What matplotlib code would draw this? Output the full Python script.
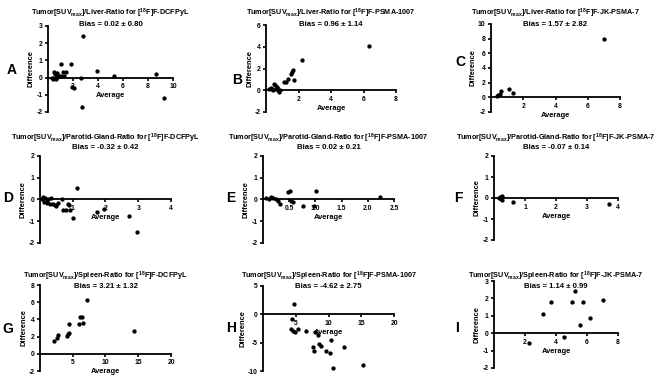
import numpy as np
import matplotlib
matplotlib.use("Agg")
import matplotlib.pyplot as plt

plt.rcParams['font.family'] = ['Liberation Sans', 'DejaVu Sans']
plt.rcParams['font.weight'] = 'bold'
plt.rcParams['mathtext.fontset'] = 'custom'
plt.rcParams['mathtext.rm'] = 'Liberation Sans:bold'
plt.rcParams['mathtext.bf'] = 'Liberation Sans:bold'
plt.rcParams['mathtext.it'] = 'Liberation Sans:bold'
plt.rcParams['axes.unicode_minus'] = False

W, H = 669, 383

# ---- data (average, difference) ----
a_x = [0.3, 0.4, 0.45, 0.5, 0.55, 0.6, 0.65, 0.7, 0.75, 0.8, 0.9, 1.0, 1.07, 1.2, 1.25,
       1.4, 1.8, 1.95, 2.05, 2.6, 2.8, 2.7, 3.9, 5.3, 8.6, 9.3]
a_y = [-0.05, -0.1, 0.3, -0.05, 0.2, 0.0, -0.1, 0.25, 0.05, 0.1, 0.1, 0.1, 0.8, 0.35, 0.1,
       0.3, 0.8, -0.55, -0.6, 0.0, 2.4, -1.7, 0.4, 0.1, 0.2, -1.2]
b_x = [0.2, 0.3, 0.35, 0.45, 0.5, 0.55, 0.6, 0.65, 0.7, 0.75, 0.8, 0.85, 1.1, 1.2, 1.35,
       1.55, 1.6, 1.65, 1.7, 2.2, 6.35]
b_y = [0.1, 0.2, 0.15, 0.0, 0.6, 0.5, 0.1, 0.3, 0.2, 0.05, -0.15, 0.0, 0.8, 0.8, 1.0,
       1.5, 1.7, 1.9, 0.9, 2.8, 4.1]
c_x = [0.4, 0.45, 0.55, 0.65, 1.1, 1.35, 7.0]
c_y = [0.2, 0.35, 0.5, 0.8, 1.1, 0.6, 7.9]
d_x = [0.05, 0.1, 0.12, 0.15, 0.2, 0.22, 0.25, 0.3, 0.35, 0.4, 0.45, 0.5, 0.55, 0.68, 0.7,
       0.8, 0.86, 0.9, 0.92, 1.0, 1.13, 1.73, 1.96, 2.71, 2.97]
d_y = [0.0, 0.1, -0.1, 0.05, -0.05, -0.15, 0.0, -0.2, 0.05, -0.2, -0.25, -0.3, -0.15, 0.0, -0.47,
       -0.47, -0.19, -0.25, -0.47, -0.86, 0.52, -0.58, -0.42, -0.77, -1.48]
e_x = [0.05, 0.12, 0.16, 0.2, 0.24, 0.28, 0.33, 0.48, 0.52, 0.54, 0.57, 0.77, 0.97, 1.02, 2.24]
e_y = [0.05, 0.02, 0.12, 0.05, 0.0, -0.08, -0.19, 0.33, 0.4, -0.08, -0.1, -0.3, -0.3, 0.4, 0.1]
f_x = [0.15, 0.2, 0.22, 0.25, 0.27, 0.61, 3.72]
f_y = [-0.02, 0.05, -0.05, 0.08, -0.08, -0.19, -0.3]
g_x = [2.1, 2.6, 2.7, 4.1, 4.3, 4.4, 4.5, 5.9, 6.1, 6.4, 6.6, 7.2, 14.4]
g_y = [1.5, 1.8, 2.2, 2.1, 2.3, 2.4, 3.5, 3.5, 4.3, 4.25, 3.55, 6.2, 2.65]
h_x = [4.3, 4.4, 4.6, 4.8, 4.9, 5.3, 6.6, 7.6, 7.8, 8.0, 8.4, 8.6, 8.9, 9.6, 10.2, 10.4,
       10.7, 12.3, 15.2]
h_y = [-2.6, -0.8, -2.9, 1.8, -3.2, -2.5, -2.9, -5.8, -6.4, -3.2, -3.6, -5.2, -5.6, -6.4, -6.8,
       -4.6, -9.4, -5.7, -8.9]
i_x = [2.25, 3.14, 3.7, 4.5, 5.0, 5.2, 5.57, 5.72, 6.2, 7.0]
i_y = [-0.55, 1.08, 1.78, -0.2, 1.78, 2.4, 0.49, 1.78, 0.9, 1.88]

letters = ['A', 'B', 'C', 'D', 'E', 'F', 'G', 'H', 'I']
organs = ['Liver', 'Liver', 'Liver', 'Parotid-Gland', 'Parotid-Gland', 'Parotid-Gland',
          'Spleen', 'Spleen', 'Spleen']
tracers = ['DCFPyL', 'PSMA-1007', 'JK-PSMA-7'] * 3
bias = ['0.02 ± 0.80', '0.96 ± 1.14', '1.57 ± 2.82',
        '-0.32 ± 0.42', '0.02 ± 0.21', '-0.07 ± 0.14',
        '3.21 ± 1.32', '-4.62 ± 2.75', '1.14 ± 0.99']
xs = [a_x, b_x, c_x, d_x, e_x, f_x, g_x, h_x, i_x]
ys = [a_y, b_y, c_y, d_y, e_y, f_y, g_y, h_y, i_y]
xticks = [[2, 4, 6, 8, 10], [2, 4, 6, 8], [2, 4, 6, 8],
          [1, 2, 3, 4], [0.5, 1.0, 1.5, 2.0, 2.5], [1, 2, 3, 4],
          [5, 10, 15, 20], [5, 10, 15, 20], [2, 4, 6, 8]]
xlabels_fmt = ['%d', '%d', '%d', '%d', '%.1f', '%d', '%d', '%d', '%d']
yticks = [[-2, -1, 0, 1, 2, 3], [-2, 0, 2, 4, 6], [-2, 0, 2, 4, 6, 8, 10],
          [-2, -1, 0, 1, 2], [-2, -1, 0, 1, 2], [-2, -1, 0, 1, 2],
          [-2, 0, 2, 4, 6, 8], [-10, -5, 0, 5], [-2, -1, 0, 1, 2, 3]]

# axes boxes in pixels: left, right, top, bottom
boxes = [(48, 173, 26, 112), (266, 396, 25, 112), (491, 620, 24, 112),
         (40, 171, 156, 243), (263, 394, 156, 243), (494, 618, 156, 240),
         (40, 171, 285, 371), (263, 394, 286, 371), (494, 618, 281, 368)]
title_y = [13, 13, 13, 138, 138, 138, 276, 276, 276]
bias_y = [25, 25, 25, 148, 148, 148, 286, 286, 286]
letter_pos = [(12, 70), (237, 80), (460, 62), (8, 198), (231, 198), (458, 198),
              (8, 329), (231, 328), (457, 328)]

fig = plt.figure(figsize=(W / 100, H / 100), dpi=100)

for k in range(9):
    l, r, t, b = boxes[k]
    ax = fig.add_axes([l / W, 1 - b / H, (r - l) / W, (b - t) / H])
    ax.plot(xs[k], ys[k], 'o', color='black', ms=3.1, mew=0)
    ax.set_xlim(0, xticks[k][-1])
    ax.set_ylim(yticks[k][0], yticks[k][-1])
    ax.set_xticks(xticks[k])
    ax.set_xticklabels([xlabels_fmt[k] % v for v in xticks[k]])
    ax.set_yticks(yticks[k])
    ax.spines['top'].set_visible(False)
    ax.spines['right'].set_visible(False)
    ax.spines['bottom'].set_position(('data', 0))
    for s in ('left', 'bottom'):
        ax.spines[s].set_linewidth(1.3)
    ax.tick_params(axis='both', labelsize=4.9, length=2.5, width=1.2, pad=1.5)
    for lab in ax.get_xticklabels() + ax.get_yticklabels():
        lab.set_fontweight('bold')
    ax.set_xlabel('Average', fontsize=5.4, fontweight='bold', labelpad=1.5)
    ax.set_ylabel('Difference', fontsize=5.4, fontweight='bold', labelpad=1)
    ax.patch.set_alpha(0)

    cx = (l + r) / 2 / W
    title = ('Tumor[SUV$_{\\mathrm{max}}$]/%s-Ratio for [$^{\\mathrm{18}}$F]F-%s'
             % (organs[k], tracers[k]))
    fig.text(cx, 1 - title_y[k] / H, title, ha='center', va='center',
             fontsize=5.2, fontweight='bold')
    fig.text(cx, 1 - bias_y[k] / H, 'Bias = ' + bias[k], ha='center', va='center',
             fontsize=5.6, fontweight='bold')
    lx, ly = letter_pos[k]
    fig.text(lx / W, 1 - ly / H, letters[k], ha='center', va='center',
             fontsize=10, fontweight='bold')

fig.savefig('out.png', dpi=100)
